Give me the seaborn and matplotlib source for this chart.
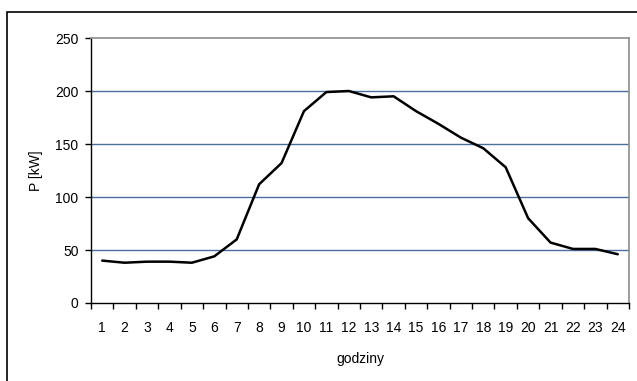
import numpy as np
import pandas as pd
import matplotlib
matplotlib.use("Agg")
import matplotlib.pyplot as plt
import seaborn as sns
from matplotlib.patches import Rectangle

hours = [str(h) for h in range(1, 25)]
power = [40, 38, 39, 39, 38, 44, 60, 112, 132, 181, 199, 200,
         194, 195, 181, 169, 156, 146, 128, 80, 57, 51, 51, 46]
yticks = [0, 50, 100, 150, 200, 250]

sns.set_style("white")
plt.rcParams['font.family'] = ['Liberation Sans', 'DejaVu Sans']
plt.rcParams['text.color'] = 'black'
plt.rcParams['axes.labelcolor'] = 'black'
plt.rcParams['xtick.color'] = 'black'
plt.rcParams['ytick.color'] = 'black'

df = pd.DataFrame({"idx": np.arange(len(hours)), "P": power})

fig = plt.figure(figsize=(6.37, 3.81), dpi=100)
ax = fig.add_axes([91/637, 1-303/381, (629-91)/637, (303-38)/381])

for v in yticks[1:-1]:
    ax.axhline(v, color='#4a6f9c', lw=1.0, zorder=1)

sns.lineplot(data=df, x="idx", y="P", ax=ax, color='black', lw=1.8, zorder=3)

ax.set_xlim(-0.5, len(hours) - 0.5)
ax.set_ylim(0, 250)
ax.set_yticks(yticks)
ax.set_yticklabels([str(v) for v in yticks], fontsize=10)
ax.set_xticks(np.arange(len(hours) + 1) - 0.5)
ax.set_xticklabels([])
ax.set_xticks(np.arange(len(hours)), minor=True)
ax.set_xticklabels(hours, minor=True, fontsize=10)
ax.tick_params(axis='x', which='major', length=4, width=1, color='black', direction='out', bottom=True)
ax.tick_params(axis='x', which='minor', length=0, pad=13)
ax.tick_params(axis='y', length=4, width=1, color='black', direction='out', left=True, pad=5)

ax.set_xlabel("godziny", fontsize=10, labelpad=12)
ax.set_ylabel("P [kW]", fontsize=10, labelpad=9)

for s in ['left', 'bottom']:
    ax.spines[s].set_color('black')
    ax.spines[s].set_linewidth(1)
for s in ['top', 'right']:
    ax.spines[s].set_color('#8c8c8c')
    ax.spines[s].set_linewidth(1.2)

fig.patches.append(Rectangle((7/637, -0.1), 1.1, 1 - 12/381 + 0.1,
                             transform=fig.transFigure, fill=False,
                             edgecolor='black', lw=1.2))

fig.savefig("out.png", dpi=100)
